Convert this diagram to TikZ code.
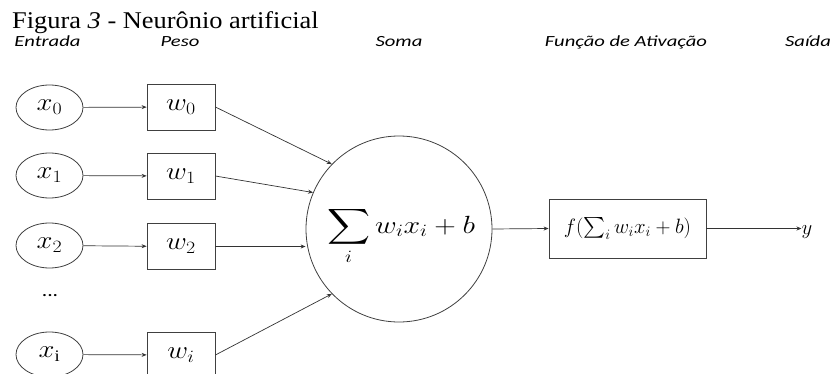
\documentclass[tikz,border=0pt]{standalone}
\usepackage{amsmath}
\usepackage{fontspec}
\setmainfont{Liberation Serif}
\newfontfamily\hdrfont{Carlito}
\usetikzlibrary{arrows.meta,shapes.geometric}
\begin{document}
\begin{tikzpicture}[x=1pt,y=-1pt,
  lc/.style={draw=black!75,line width=0.8pt},
  inell/.style={lc,ellipse,minimum width=67pt,minimum height=45pt,inner sep=0pt,fill=white},
  wbox/.style={lc,rectangle,minimum width=68pt,minimum height=46pt,inner sep=0pt,fill=white},
  conn/.style={draw=black!80,line width=0.7pt,-{Stealth[length=5pt,width=4pt]}},
  hdr/.style={inner sep=0pt,anchor=base,text=black,font=\hdrfont\itshape\fontsize{15.5}{18}\selectfont},
  lbl/.style={font=\fontsize{23}{27}\selectfont}
]
\useasboundingbox (0,0) rectangle (832,374);
% title
\node[anchor=base west,inner sep=0pt] (title) at (12,29)
  {\scalebox{1.1}[1]{\fontsize{24}{28}\selectfont Figura \textit{3} - Neurônio artificial}};
% headers
\node[hdr] (hE) at (47.5,47) {\scalebox{1.33}[1]{Entrada}};
\node[hdr] (hP) at (180,47) {\scalebox{1.33}[1]{Peso}};
\node[hdr] (hS) at (399,47) {\scalebox{1.33}[1]{Soma}};
\node[hdr] (hF) at (626,47) {\scalebox{1.33}[1]{Função de Ativação}};
\node[hdr] (hY) at (808,47) {\scalebox{1.33}[1]{Saída}};
% inputs
\node[inell,lbl] (x0) at (49.5,107.5) {\scalebox{1.15}[1]{$x_0$}};
\node[inell,lbl] (x1) at (49.5,175.5) {\scalebox{1.15}[1]{$x_1$}};
\node[inell,lbl] (x2) at (49.5,245.5) {\scalebox{1.15}[1]{$x_2$}};
\node[inell,lbl] (xi) at (49.5,354.5) {\scalebox{1.15}[1]{$x_\mathrm{i}$}};
\node[inner sep=0pt,font=\hdrfont\fontsize{18}{20}\selectfont] (dots) at (50,296) {\scalebox{1.2}[1]{...}};
% weights
\node[wbox,lbl] (w0) at (181,107) {\scalebox{1.15}[1]{$w_0$}};
\node[wbox,lbl] (w1) at (181,176) {\scalebox{1.15}[1]{$w_1$}};
\node[wbox,lbl] (w2) at (181,246.5) {\scalebox{1.15}[1]{$w_2$}};
\node[wbox,lbl] (wi) at (181,355) {\scalebox{1.15}[1]{$w_i$}};
% sum
\node[lc,circle,minimum size=186pt,inner sep=0pt] (sum) at (399,229) {};
\node[inner sep=0pt,font=\fontsize{23}{28}\selectfont] (sumtxt) at (401,236)
  {\scalebox{1.2}[1]{$\displaystyle\sum_i w_i x_i + b$}};
% activation
\node[lc,rectangle,minimum width=157pt,minimum height=59pt,inner sep=0pt] (act) at (627.5,228.5)
  {\fontsize{19.5}{22}\selectfont $f(\sum_i w_i x_i + b)$};
\node[inner sep=0pt,font=\fontsize{21}{24}\selectfont] (y) at (807,232) {$y$};
% connectors
\draw[conn] (x0) -- (w0);
\draw[conn] (x1) -- (w1);
\draw[conn] (x2) -- (w2);
\draw[conn] (xi) -- (wi);
\draw[conn] (w0.east) -- (sum.136);
\draw[conn] (w1.east) -- (sum.157);
\draw[conn] (w2.east) -- (sum.west |- w2.east);
\draw[conn] (wi.east) -- (sum.224);
\draw[conn] (sum.east) -- (act.west);
\draw[conn] (act.east) -- (act.east -| y.west);
\end{tikzpicture}
\end{document}
